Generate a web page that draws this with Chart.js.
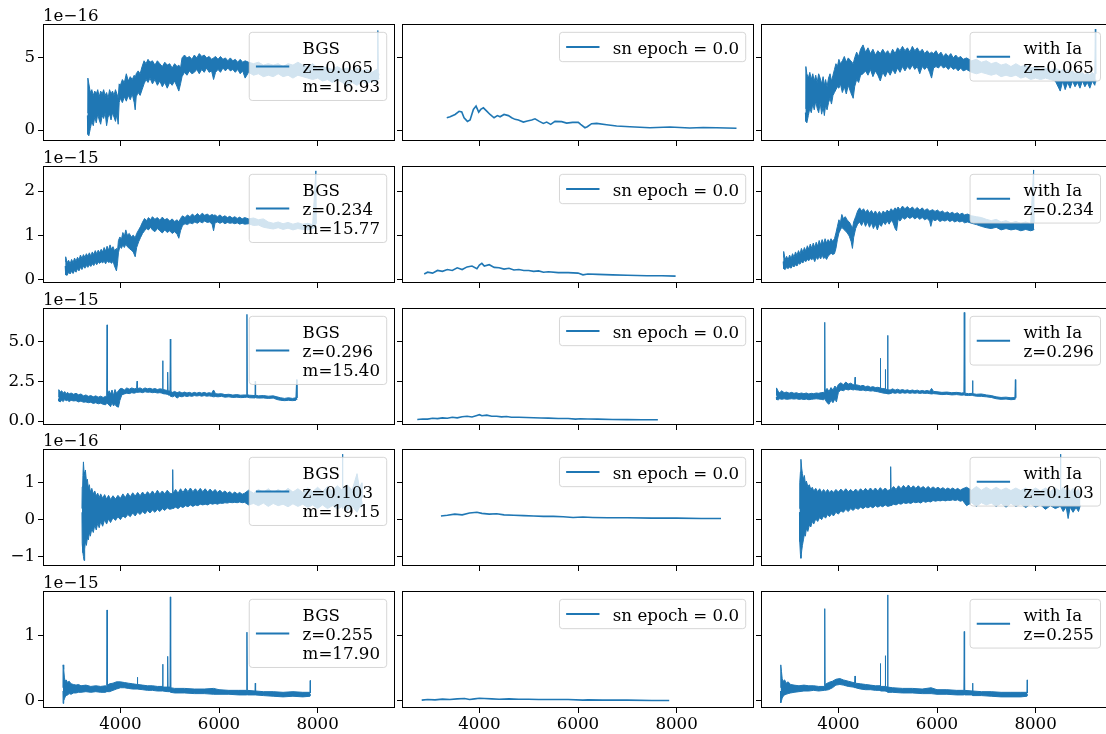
<!DOCTYPE html>
<html>
<head>
<meta charset="utf-8">
<script src="https://cdn.jsdelivr.net/npm/chart.js@4.4.0/dist/chart.umd.min.js"></script>
<style>
  html, body { margin: 0; padding: 0; background: #fff; overflow: hidden; }
  #fig { position: relative; width: 1106px; height: 734px; overflow: hidden; background: #fff; }
  #fig canvas { position: absolute; }
</style>
</head>
<body>
<div id="fig"></div>
<script>
// per-row labels
const rowScale = ['1e\u221216', '1e\u221215', '1e\u221215', '1e\u221216', '1e\u221215'];
const redshifts = ['0.065', '0.234', '0.296', '0.103', '0.255'];
const magnitudes = ['16.93', '15.77', '15.40', '19.15', '17.90'];
const snEpoch = '0.0';

// axis limits / ticks (flux in units of the row multiplier)
const xLimits = [2430, 9570];
const xTicks = [4000, 6000, 8000];
const yLimits = [[-0.76, 7.35], [-0.085, 2.57], [-0.25, 7.1], [-1.26, 1.92], [-0.11, 1.68]];
const yTicks = [[0, 5], [0, 1, 2], [0, 2.5, 5], [-1, 0, 1], [0, 1]];
const yDecimals = [0, 0, 1, 0, 0];

// galaxy spectra: [wavelength, upper edge, lower edge] of the noisy flux band
const bgs1 = [
  [3330,1.2,1.0],[3340,3.6,-0.3],[3360,3.2,-0.4],[3390,2.6,0.1],[3420,2.8,0.6],[3450,2.4,0.3],[3480,2.7,0.9],
  [3510,2.5,0.5],[3540,2.8,1.1],[3570,2.3,0.7],[3600,2.7,0.4],[3630,2.5,1.0],[3660,2.8,0.8],[3690,2.4,1.2],
  [3720,2.6,0.3],[3750,2.2,0.9],[3780,2.8,1.1],[3810,2.5,0.7],[3840,2.7,1.2],[3870,2.4,0.9],[3900,2.8,0.6],
  [3930,2.5,1.1],[3955,2.2,0.4],[3975,3.2,1.9],[4000,3.1,2.2],[4040,3.5,1.9],[4080,3.3,2.3],[4120,3.9,2.0],
  [4160,3.4,2.4],[4200,3.7,2.1],[4240,3.5,2.5],[4280,3.8,1.9],[4300,3.6,1.4],[4320,3.9,2.3],[4360,4.1,2.6],
  [4400,3.9,2.4],[4440,4.4,2.8],[4480,4.8,3.2],[4520,4.6,3.5],[4560,4.9,3.3],[4600,4.7,3.6],[4650,4.8,3.2],
  [4700,4.5,3.5],[4750,4.8,3.1],[4800,4.6,3.4],[4850,4.4,3.0],[4900,4.7,3.3],[4950,4.5,2.9],[5000,4.6,3.3],
  [5050,4.3,3.1],[5100,4.6,3.4],[5150,4.4,3.0],[5185,4.5,2.7],[5220,4.3,3.2],[5250,5.0,3.7],[5300,5.2,4.0],
  [5350,5.0,3.8],[5400,5.1,4.1],[5450,4.9,3.9],[5500,5.2,4.0],[5550,5.0,4.2],[5600,5.3,3.9],[5650,5.1,4.2],
  [5700,5.2,4.0],[5750,5.0,4.3],[5800,5.1,4.0],[5850,4.9,4.1],[5890,5.0,3.5],[5930,5.1,4.0],[5980,4.9,4.2],
  [6030,5.1,4.0],[6080,4.9,4.3],[6130,5.0,4.1],[6180,4.8,4.3],[6230,5.0,4.1],[6280,4.8,4.2],[6330,4.9,4.0],
  [6380,4.7,4.2],[6430,4.9,3.9],[6480,4.7,4.1],[6530,4.8,3.6],[6600,4.7,4.0],[6700,4.6,3.8],[6800,4.7,3.9],
  [6900,4.5,3.7],[7000,4.6,3.8],[7100,4.5,3.7],[7200,4.6,3.9],[7300,4.4,3.7],[7400,4.6,3.8],[7500,4.5,3.6],
  [7600,4.7,3.8],[7700,4.5,3.7],[7800,4.4,3.6],[7900,4.6,3.5],[8000,4.3,3.6],[8100,4.4,3.4],[8200,4.3,3.5],
  [8300,4.2,3.3],[8400,4.4,3.5],[8500,4.2,3.3],[8600,4.3,3.0],[8700,4.1,3.3],[8800,4.3,3.1],[8900,4.1,3.4],
  [9000,4.2,3.2],[9100,4.0,3.4],[9200,4.2,3.3],[9215,4.1,3.5],[9222,6.9,3.6],[9230,4.0,3.5],[9250,3.8,3.6]
];
const bgs2 = [
  [2880,0.40,0.30],[2890,0.51,0.10],[2920,0.38,0.09],[2950,0.43,0.16],[2980,0.35,0.12],[3010,0.45,0.18],
  [3040,0.38,0.13],[3070,0.48,0.20],[3100,0.41,0.16],[3130,0.50,0.24],[3160,0.44,0.19],[3190,0.55,0.27],
  [3220,0.47,0.22],[3250,0.56,0.30],[3280,0.50,0.25],[3310,0.58,0.31],[3340,0.52,0.27],[3370,0.60,0.33],
  [3400,0.53,0.29],[3430,0.62,0.35],[3460,0.56,0.31],[3490,0.65,0.38],[3520,0.58,0.33],[3550,0.66,0.39],
  [3580,0.60,0.36],[3610,0.68,0.40],[3640,0.62,0.37],[3670,0.72,0.41],[3700,0.64,0.35],[3730,0.75,0.42],
  [3760,0.66,0.38],[3790,0.78,0.40],[3820,0.68,0.36],[3850,0.74,0.41],[3880,0.65,0.30],[3920,0.70,0.19],
  [3940,0.62,0.35],[3960,0.88,0.60],[3990,0.96,0.75],[4020,0.90,0.70],[4050,1.06,0.78],[4080,0.98,0.72],
  [4110,1.12,0.80],[4140,1.00,0.74],[4180,1.04,0.70],[4220,0.96,0.66],[4260,1.00,0.62],[4300,0.94,0.51],
  [4330,1.04,0.72],[4370,1.12,0.85],[4410,1.20,0.95],[4450,1.30,1.04],[4490,1.38,1.10],[4530,1.33,1.15],
  [4570,1.40,1.12],[4610,1.35,1.18],[4650,1.42,1.12],[4700,1.36,1.08],[4750,1.40,1.15],[4800,1.34,1.10],
  [4850,1.41,1.05],[4900,1.35,1.12],[4950,1.38,1.06],[5000,1.32,1.10],[5050,1.37,1.04],[5100,1.31,1.08],
  [5150,1.35,1.02],[5185,1.30,0.93],[5220,1.38,1.10],[5260,1.44,1.22],[5310,1.40,1.26],[5360,1.46,1.24],
  [5410,1.42,1.28],[5460,1.48,1.26],[5510,1.43,1.30],[5560,1.49,1.27],[5610,1.44,1.31],[5660,1.50,1.28],
  [5710,1.45,1.32],[5760,1.48,1.29],[5810,1.44,1.30],[5860,1.47,1.25],[5890,1.45,1.10],[5920,1.46,1.28],
  [5970,1.42,1.30],[6020,1.46,1.27],[6070,1.41,1.30],[6120,1.44,1.26],[6170,1.40,1.29],[6220,1.43,1.27],
  [6270,1.39,1.28],[6320,1.42,1.26],[6370,1.38,1.28],[6420,1.41,1.25],[6470,1.37,1.27],[6520,1.40,1.25],
  [6600,1.37,1.26],[6700,1.39,1.22],[6800,1.35,1.23],[6900,1.37,1.18],[7000,1.30,1.16],[7100,1.27,1.14],
  [7200,1.30,1.17],[7300,1.26,1.13],[7400,1.29,1.16],[7500,1.25,1.12],[7600,1.28,1.15],[7700,1.25,1.13],
  [7800,1.27,1.12],[7900,1.24,1.15],[7965,2.46,1.18],[7975,1.26,1.20]
];
const bgs3 = [
  [2745,1.50,1.40],[2750,1.97,1.25],[2780,1.82,1.20],[2810,1.90,1.30],[2840,1.75,1.22],[2870,1.85,1.35],
  [2900,1.72,1.28],[2930,1.80,1.30],[2960,1.70,1.22],[3000,1.76,1.30],[3050,1.68,1.26],[3100,1.74,1.28],
  [3150,1.65,1.20],[3200,1.70,1.25],[3250,1.58,1.18],[3300,1.64,1.20],[3350,1.55,1.15],[3400,1.60,1.18],
  [3450,1.52,1.10],[3500,1.58,1.15],[3550,1.50,1.08],[3600,1.56,1.12],[3650,1.48,1.05],[3700,1.55,1.02],
  [3722,1.52,1.10],[3730,6.04,1.20],[3738,1.60,1.10],[3770,1.90,1.00],[3800,1.70,0.90],[3830,1.95,1.15],
  [3860,1.60,0.95],[3890,1.98,1.05],[3920,1.75,0.92],[3960,1.90,0.87],[3990,2.02,1.30],[4030,2.05,1.65],
  [4080,1.95,1.70],[4130,2.08,1.75],[4180,2.00,1.72],[4230,2.08,1.78],[4280,2.02,1.75],[4330,2.05,1.80],
  [4338,2.50,1.82],[4346,2.04,1.80],[4400,2.08,1.82],[4450,2.00,1.78],[4500,2.08,1.84],[4550,2.02,1.80],
  [4600,2.06,1.82],[4650,2.00,1.78],[4700,2.04,1.80],[4750,1.98,1.76],[4800,2.02,1.78],[4852,2.00,1.75],
  [4858,3.79,1.80],[4864,1.98,1.72],[4910,1.95,1.70],[4952,1.92,1.68],[4959,3.07,1.70],[4966,1.90,1.64],
  [5005,1.88,1.62],[5013,5.15,1.65],[5021,1.85,1.55],[5060,1.80,1.52],[5100,1.86,1.58],[5150,1.78,1.44],
  [5200,1.84,1.55],[5250,1.76,1.52],[5300,1.82,1.58],[5350,1.76,1.54],[5400,1.80,1.58],[5450,1.74,1.55],
  [5500,1.80,1.60],[5550,1.75,1.57],[5600,1.80,1.60],[5650,1.75,1.56],[5700,1.80,1.60],[5750,1.74,1.56],
  [5800,1.78,1.58],[5850,1.74,1.55],[5890,1.95,1.52],[5930,1.72,1.54],[5980,1.70,1.52],[6050,1.72,1.55],
  [6120,1.66,1.50],[6200,1.68,1.52],[6280,1.63,1.48],[6360,1.66,1.50],[6440,1.62,1.47],[6520,1.64,1.48],
  [6560,1.63,1.50],[6567,6.70,1.52],[6574,1.65,1.50],[6620,1.62,1.46],[6730,1.60,1.45],[6736,2.50,1.48],
  [6742,1.62,1.46],[6800,1.58,1.44],[6900,1.60,1.45],[7000,1.56,1.42],[7100,1.58,1.44],[7175,1.52,1.35],
  [7250,1.46,1.30],[7330,1.42,1.28],[7410,1.46,1.30],[7490,1.42,1.28],[7560,1.46,1.30],[7575,2.60,1.35],
  [7582,1.45,1.40]
];
const bgs4 = [
  [3220,0.30,0.20],[3225,0.89,-0.65],[3240,1.20,-0.90],[3250,1.57,-1.00],[3262,1.30,-1.11],[3275,1.20,-0.80],
  [3290,1.35,-0.60],[3310,1.05,-0.70],[3330,1.10,-0.50],[3350,0.85,-0.55],[3370,0.95,-0.35],[3390,0.75,-0.45],
  [3420,0.85,-0.25],[3450,0.70,-0.35],[3480,0.78,-0.15],[3510,0.65,-0.28],[3540,0.72,-0.10],[3570,0.60,-0.22],
  [3600,0.70,-0.05],[3640,0.58,-0.18],[3680,0.68,0.00],[3720,0.56,-0.12],[3760,0.66,0.02],[3800,0.55,-0.08],
  [3850,0.65,0.05],[3900,0.56,-0.02],[3950,0.66,0.08],[4000,0.58,0.00],[4050,0.70,0.10],[4100,0.60,0.05],
  [4150,0.72,0.14],[4200,0.62,0.08],[4250,0.73,0.18],[4300,0.64,0.10],[4350,0.74,0.20],[4400,0.65,0.14],
  [4450,0.75,0.22],[4500,0.66,0.16],[4550,0.76,0.25],[4600,0.68,0.18],[4650,0.78,0.26],[4700,0.68,0.20],
  [4750,0.80,0.28],[4800,0.70,0.22],[4850,0.78,0.30],[4900,0.70,0.25],[4950,0.80,0.32],[5000,0.72,0.28],
  [5055,0.70,0.30],[5061,1.36,0.32],[5067,0.72,0.30],[5120,0.82,0.34],[5170,0.72,0.30],[5220,0.84,0.36],
  [5270,0.74,0.33],[5320,0.85,0.38],[5370,0.76,0.35],[5420,0.86,0.40],[5470,0.76,0.36],[5520,0.84,0.40],
  [5570,0.76,0.38],[5620,0.85,0.42],[5670,0.76,0.40],[5720,0.84,0.42],[5770,0.75,0.40],[5820,0.83,0.44],
  [5870,0.75,0.42],[5920,0.82,0.44],[5970,0.74,0.42],[6020,0.80,0.45],[6070,0.73,0.44],[6120,0.78,0.46],
  [6170,0.72,0.45],[6220,0.76,0.47],[6270,0.70,0.46],[6320,0.75,0.47],[6370,0.70,0.46],[6420,0.74,0.48],
  [6470,0.69,0.46],[6520,0.72,0.47],[6600,0.80,0.40],[6700,0.72,0.44],[6800,0.82,0.38],[6900,0.74,0.45],
  [7000,0.84,0.36],[7100,0.73,0.44],[7200,0.82,0.38],[7300,0.74,0.42],[7400,0.85,0.35],[7500,0.75,0.43],
  [7600,0.84,0.36],[7700,0.74,0.42],[7800,0.86,0.33],[7900,0.76,0.40],[8000,0.88,0.30],[8100,0.76,0.40],
  [8200,0.90,0.30],[8300,0.78,0.38],[8400,0.92,0.28],[8498,0.80,0.36],[8505,1.78,0.30],[8512,0.82,0.36],
  [8600,0.95,0.25],[8700,0.80,0.36],[8800,1.25,0.20],[8850,0.85,0.34],[8895,1.00,0.40],[8900,0.60,0.50]
];
const bgs5 = [
  [2835,0.20,0.15],[2838,0.55,-0.04],[2850,0.48,0.00],[2865,0.35,0.03],[2880,0.30,0.06],[2900,0.32,0.08],
  [2930,0.28,0.09],[2960,0.30,0.11],[3000,0.26,0.10],[3050,0.25,0.12],[3100,0.24,0.12],[3150,0.25,0.13],
  [3200,0.23,0.13],[3300,0.24,0.14],[3400,0.22,0.13],[3500,0.23,0.14],[3600,0.22,0.13],[3700,0.23,0.13],
  [3724,0.22,0.14],[3730,1.39,0.15],[3736,0.24,0.14],[3780,0.26,0.14],[3850,0.27,0.16],[3920,0.29,0.18],
  [4000,0.29,0.20],[4080,0.28,0.20],[4160,0.27,0.19],[4250,0.26,0.18],[4340,0.25,0.18],[4345,0.36,0.18],
  [4350,0.25,0.18],[4450,0.24,0.17],[4550,0.23,0.16],[4650,0.23,0.16],[4750,0.22,0.15],[4852,0.22,0.15],
  [4858,0.56,0.16],[4864,0.21,0.15],[4952,0.21,0.14],[4959,0.68,0.15],[4966,0.21,0.14],[5006,0.21,0.14],
  [5013,1.59,0.15],[5020,0.20,0.13],[5100,0.19,0.12],[5300,0.19,0.12],[5500,0.18,0.11],[5700,0.18,0.11],
  [5890,0.19,0.10],[6000,0.17,0.10],[6200,0.16,0.10],[6400,0.16,0.09],[6560,0.16,0.09],[6567,1.05,0.10],
  [6574,0.16,0.09],[6730,0.15,0.09],[6736,0.27,0.09],[6742,0.15,0.09],[6900,0.14,0.08],[7100,0.14,0.07],
  [7300,0.13,0.06],[7500,0.14,0.07],[7700,0.13,0.06],[7845,0.13,0.07],[7850,0.31,0.08],[7856,0.12,0.10]
];

// galaxy + SN Ia spectra, same layout
const ia1 = [
  [3330,1.5,1.2],[3340,4.4,0.6],[3360,3.9,0.5],[3390,3.6,1.0],[3420,4.0,1.5],[3450,3.5,1.2],[3480,3.9,1.8],
  [3510,3.4,1.4],[3540,3.8,2.0],[3570,3.3,1.5],[3600,3.9,1.2],[3630,3.6,1.9],[3660,3.2,1.1],[3690,3.7,1.6],
  [3715,3.1,1.0],[3740,3.5,1.7],[3770,3.0,1.4],[3800,3.6,1.9],[3830,3.9,2.2],[3860,3.4,1.8],[3890,3.8,2.4],
  [3920,4.2,2.6],[3950,4.6,2.8],[3980,4.4,3.0],[4010,4.9,2.9],[4040,4.6,3.2],[4080,4.8,2.6],[4120,5.1,3.0],
  [4160,4.7,2.5],[4200,5.0,3.1],[4250,4.8,2.6],[4300,4.6,2.2],[4330,5.0,3.0],[4370,5.4,3.5],[4410,5.1,3.3],
  [4450,5.6,3.8],[4500,5.9,3.9],[4550,5.4,4.1],[4600,5.7,3.8],[4650,5.3,4.2],[4700,5.6,3.7],[4750,5.2,4.1],
  [4800,5.5,3.8],[4850,5.3,3.4],[4900,5.6,4.0],[4950,5.3,3.7],[5000,5.5,4.1],[5050,5.2,3.8],[5100,5.6,4.2],
  [5150,5.3,3.9],[5200,5.7,4.3],[5250,5.5,4.0],[5300,5.8,4.4],[5350,5.5,4.1],[5400,5.7,4.4],[5450,5.4,4.2],
  [5500,5.8,4.5],[5550,5.5,4.2],[5600,5.7,4.4],[5650,5.4,3.9],[5700,5.6,4.4],[5750,5.3,4.2],[5800,5.5,4.4],
  [5850,5.3,4.0],[5890,5.4,3.6],[5930,5.3,4.3],[5980,5.5,4.4],[6030,5.2,4.3],[6080,5.4,4.5],[6130,5.1,4.3],
  [6180,5.3,4.4],[6230,5.1,4.2],[6280,5.3,4.4],[6330,5.0,4.2],[6380,5.2,4.3],[6430,5.0,4.1],[6480,5.1,4.3],
  [6530,4.9,4.1],[6600,5.0,4.2],[6700,4.8,4.0],[6800,4.9,3.9],[6900,4.7,4.0],[7000,4.8,3.9],[7100,4.6,3.8],
  [7200,4.7,3.9],[7300,4.5,3.7],[7400,4.6,3.8],[7500,4.4,3.7],[7600,4.6,3.8],[7700,4.4,3.6],[7800,4.5,3.7],
  [7900,4.3,3.5],[8000,4.4,3.6],[8100,4.2,3.5],[8200,4.3,3.6],[8300,4.1,3.5],[8400,4.3,3.4],[8500,4.1,2.7],
  [8550,4.2,3.4],[8600,4.0,2.8],[8650,4.2,3.3],[8700,4.0,2.9],[8750,4.1,3.4],[8800,3.9,3.0],[8850,4.1,3.3],
  [8900,3.9,2.9],[8950,4.0,3.4],[9000,3.8,3.0],[9050,4.0,3.3],[9100,3.8,2.9],[9150,4.0,3.4],[9200,3.8,3.1],
  [9212,7.0,3.3],[9220,3.9,3.5]
];
const ia2 = [
  [2880,0.50,0.40],[2890,0.63,0.24],[2920,0.45,0.22],[2950,0.52,0.27],[2980,0.44,0.24],[3010,0.55,0.28],
  [3040,0.47,0.25],[3070,0.58,0.31],[3100,0.50,0.28],[3130,0.62,0.33],[3160,0.54,0.30],[3190,0.65,0.37],
  [3220,0.57,0.34],[3250,0.70,0.40],[3280,0.61,0.37],[3310,0.72,0.43],[3340,0.64,0.40],[3370,0.76,0.45],
  [3400,0.68,0.42],[3430,0.80,0.47],[3460,0.70,0.44],[3490,0.82,0.48],[3520,0.72,0.40],[3550,0.84,0.50],
  [3580,0.75,0.45],[3610,0.88,0.52],[3640,0.78,0.46],[3670,0.90,0.55],[3700,0.80,0.47],[3730,0.92,0.50],
  [3760,0.82,0.45],[3790,0.90,0.52],[3820,0.84,0.55],[3850,0.92,0.60],[3880,0.86,0.56],[3920,0.92,0.58],
  [3950,1.05,0.70],[3980,1.20,0.90],[4010,1.35,1.05],[4040,1.28,1.12],[4070,1.47,1.18],[4100,1.38,1.14],
  [4140,1.42,1.10],[4180,1.34,1.05],[4220,1.30,0.98],[4260,1.22,0.85],[4285,1.15,0.70],[4310,1.30,0.95],
  [4350,1.42,1.15],[4390,1.55,1.25],[4430,1.62,1.30],[4470,1.55,1.22],[4510,1.60,1.32],[4550,1.52,1.20],
  [4590,1.58,1.30],[4630,1.50,1.18],[4670,1.56,1.28],[4710,1.48,1.15],[4750,1.55,1.25],[4790,1.47,1.12],
  [4830,1.54,1.26],[4870,1.47,1.20],[4910,1.55,1.30],[4950,1.50,1.24],[4990,1.57,1.32],[5030,1.52,1.25],
  [5070,1.60,1.34],[5110,1.55,1.28],[5150,1.62,1.15],[5180,1.58,1.10],[5210,1.64,1.36],[5250,1.58,1.32],
  [5300,1.66,1.40],[5350,1.60,1.36],[5400,1.65,1.42],[5450,1.59,1.38],[5500,1.64,1.42],[5550,1.58,1.37],
  [5600,1.63,1.41],[5650,1.57,1.36],[5700,1.62,1.40],[5750,1.56,1.35],[5800,1.60,1.38],[5850,1.55,1.32],
  [5875,1.56,1.20],[5910,1.58,1.36],[5960,1.54,1.33],[6010,1.57,1.36],[6060,1.52,1.31],[6110,1.55,1.34],
  [6160,1.50,1.32],[6210,1.53,1.35],[6260,1.49,1.31],[6310,1.52,1.34],[6360,1.48,1.30],[6410,1.51,1.33],
  [6460,1.47,1.30],[6510,1.50,1.32],[6560,1.46,1.28],[6620,1.48,1.30],[6700,1.44,1.27],[6800,1.42,1.24],
  [6900,1.40,1.20],[7000,1.36,1.17],[7100,1.33,1.15],[7200,1.36,1.18],[7300,1.30,1.12],[7400,1.33,1.15],
  [7500,1.28,1.12],[7600,1.31,1.14],[7700,1.27,1.10],[7800,1.30,1.13],[7900,1.26,1.10],[7960,2.48,1.12],
  [7970,1.28,1.14]
];
const ia3 = [
  [2740,1.60,1.50],[2745,2.08,1.35],[2780,1.86,1.33],[2810,1.78,1.40],[2850,1.90,1.36],[2900,1.78,1.40],
  [2950,1.82,1.36],[3000,1.75,1.38],[3050,1.80,1.40],[3100,1.74,1.38],[3150,1.78,1.40],[3200,1.72,1.36],
  [3250,1.76,1.38],[3300,1.72,1.35],[3350,1.76,1.38],[3400,1.70,1.34],[3450,1.74,1.36],[3500,1.72,1.38],
  [3550,1.76,1.40],[3600,1.74,1.38],[3650,1.78,1.36],[3700,1.80,1.33],[3716,1.78,1.40],[3723,6.20,1.40],
  [3730,1.90,1.35],[3770,2.05,1.15],[3810,1.85,1.05],[3850,2.10,1.30],[3890,1.95,1.15],[3930,2.20,1.40],
  [3960,2.05,1.20],[4000,2.30,1.80],[4050,2.40,1.95],[4100,2.28,1.90],[4150,2.45,2.00],[4200,2.32,1.95],
  [4250,2.38,2.00],[4300,2.28,1.95],[4330,2.30,1.98],[4338,2.75,2.00],[4346,2.28,1.96],[4400,2.25,1.95],
  [4450,2.20,1.92],[4500,2.24,1.95],[4550,2.16,1.90],[4600,2.20,1.92],[4650,2.12,1.88],[4700,2.16,1.90],
  [4750,2.10,1.86],[4800,2.12,1.84],[4845,2.08,1.80],[4851,3.94,1.84],[4857,2.06,1.80],[4900,2.04,1.76],
  [4946,2.02,1.74],[4952,3.24,1.76],[4958,2.00,1.74],[4993,1.98,1.72],[4999,5.38,1.74],[5005,1.96,1.70],
  [5050,1.95,1.72],[5100,2.02,1.78],[5150,1.94,1.74],[5200,2.00,1.78],[5250,1.93,1.74],[5300,1.98,1.78],
  [5350,1.92,1.75],[5400,1.96,1.78],[5450,1.90,1.74],[5500,1.95,1.77],[5550,1.90,1.74],[5600,1.94,1.77],
  [5650,1.88,1.73],[5700,1.92,1.76],[5750,1.88,1.73],[5800,1.92,1.75],[5850,1.87,1.72],[5890,2.05,1.70],
  [5930,1.86,1.72],[6000,1.84,1.70],[6100,1.80,1.66],[6200,1.82,1.68],[6300,1.78,1.64],[6400,1.80,1.66],
  [6500,1.76,1.62],[6546,1.78,1.64],[6553,6.82,1.66],[6560,2.67,1.64],[6566,1.75,1.62],[6640,1.72,1.60],
  [6716,1.74,1.62],[6722,2.54,1.62],[6728,1.72,1.60],[6800,1.68,1.56],[6900,1.70,1.55],[7000,1.64,1.52],
  [7100,1.60,1.48],[7200,1.52,1.40],[7300,1.48,1.36],[7400,1.50,1.38],[7500,1.46,1.34],[7580,1.48,1.36],
  [7590,2.60,1.38],[7597,1.46,1.40]
];
const ia4 = [
  [3210,0.30,0.20],[3216,1.00,-0.60],[3230,1.30,-0.95],[3240,1.64,-1.05],[3255,1.40,-0.85],[3270,1.25,-0.70],
  [3290,1.10,-0.55],[3310,1.20,-0.40],[3330,0.98,-0.45],[3350,1.05,-0.25],[3380,0.90,-0.32],[3410,0.95,-0.15],
  [3440,0.82,-0.20],[3470,0.88,-0.05],[3500,0.78,-0.12],[3540,0.85,0.02],[3580,0.76,-0.05],[3620,0.84,0.06],
  [3660,0.74,0.00],[3700,0.82,0.10],[3740,0.74,0.04],[3780,0.82,0.14],[3820,0.74,0.08],[3860,0.80,0.16],
  [3900,0.74,0.10],[3950,0.82,0.20],[4000,0.75,0.15],[4050,0.83,0.24],[4100,0.76,0.20],[4150,0.84,0.28],
  [4200,0.76,0.22],[4250,0.82,0.30],[4300,0.75,0.25],[4350,0.83,0.32],[4400,0.76,0.28],[4450,0.84,0.34],
  [4500,0.77,0.30],[4550,0.85,0.35],[4600,0.78,0.32],[4650,0.86,0.36],[4700,0.78,0.32],[4750,0.86,0.38],
  [4800,0.78,0.34],[4850,0.87,0.38],[4900,0.79,0.35],[4950,0.86,0.40],[5000,0.79,0.36],[5053,0.82,0.38],
  [5060,1.44,0.40],[5067,0.82,0.38],[5120,0.90,0.42],[5170,0.82,0.40],[5220,0.92,0.44],[5270,0.84,0.42],
  [5320,0.93,0.46],[5370,0.85,0.44],[5420,0.94,0.46],[5470,0.85,0.44],[5520,0.92,0.48],[5570,0.85,0.46],
  [5620,0.92,0.48],[5670,0.85,0.45],[5720,0.90,0.50],[5770,0.84,0.47],[5820,0.90,0.50],[5870,0.84,0.48],
  [5920,0.89,0.52],[5970,0.84,0.50],[6020,0.88,0.52],[6070,0.83,0.51],[6120,0.87,0.53],[6170,0.82,0.51],
  [6220,0.86,0.53],[6270,0.82,0.52],[6320,0.86,0.54],[6370,0.81,0.52],[6420,0.85,0.54],[6470,0.80,0.50],
  [6520,0.84,0.52],[6600,0.88,0.38],[6700,0.80,0.46],[6800,0.90,0.36],[6900,0.80,0.46],[7000,0.88,0.40],
  [7100,0.80,0.45],[7200,0.88,0.36],[7300,0.80,0.44],[7400,0.86,0.34],[7500,0.79,0.44],[7600,0.86,0.36],
  [7700,0.79,0.42],[7800,0.86,0.33],[7900,0.78,0.42],[8000,0.86,0.34],[8100,0.78,0.40],[8200,0.86,0.28],
  [8300,0.77,0.38],[8400,0.86,0.30],[8498,0.78,0.36],[8505,1.78,0.34],[8512,0.80,0.36],[8560,0.88,0.22],
  [8620,0.78,0.35],[8660,0.86,0.03],[8700,0.76,0.34],[8760,0.85,0.20],[8820,0.76,0.33],[8870,0.84,0.22],
  [8910,0.60,0.40]
];
const ia5 = [
  [2828,0.20,0.15],[2831,0.55,-0.03],[2845,0.45,0.00],[2860,0.34,0.04],[2880,0.30,0.07],[2910,0.32,0.09],
  [2940,0.27,0.10],[2980,0.29,0.11],[3030,0.25,0.12],[3100,0.24,0.13],[3200,0.23,0.14],[3300,0.24,0.15],
  [3400,0.23,0.15],[3500,0.23,0.16],[3600,0.22,0.15],[3716,0.22,0.16],[3723,1.41,0.16],[3730,0.25,0.16],
  [3800,0.28,0.17],[3880,0.30,0.20],[3950,0.33,0.24],[4030,0.34,0.25],[4100,0.32,0.24],[4200,0.30,0.22],
  [4300,0.28,0.21],[4332,0.28,0.20],[4338,0.38,0.21],[4344,0.27,0.20],[4450,0.26,0.18],[4550,0.25,0.17],
  [4650,0.24,0.17],[4750,0.23,0.16],[4845,0.23,0.16],[4851,0.57,0.16],[4857,0.22,0.15],[4946,0.22,0.15],
  [4952,0.69,0.15],[4958,0.22,0.15],[4993,0.21,0.14],[4999,1.62,0.15],[5005,0.21,0.13],[5100,0.20,0.13],
  [5300,0.19,0.12],[5500,0.19,0.12],[5700,0.18,0.11],[5880,0.20,0.11],[6000,0.17,0.10],[6200,0.17,0.10],
  [6400,0.16,0.09],[6546,0.16,0.09],[6553,1.06,0.10],[6560,0.16,0.09],[6716,0.15,0.09],[6722,0.27,0.09],
  [6728,0.15,0.08],[6900,0.14,0.08],[7100,0.14,0.07],[7300,0.13,0.06],[7500,0.13,0.06],[7700,0.13,0.06],
  [7824,0.13,0.07],[7830,0.32,0.08],[7836,0.12,0.10]
];

// supernova template at epoch 0: [wavelength, flux]
const sn1 = [
  [3338,0.85],[3406,0.92],[3507,1.08],[3588,1.30],[3642,1.25],[3689,0.85],[3757,0.60],[3811,0.70],[3878,1.43],
  [3932,1.66],[3986,1.24],[4027,1.43],[4081,1.54],[4149,1.31],[4216,1.08],[4297,0.85],[4365,1.00],[4419,0.92],
  [4500,1.08],[4588,1.00],[4655,0.85],[4723,0.74],[4790,0.69],[4892,0.55],[4973,0.62],[5061,0.69],[5128,0.78],
  [5216,0.60],[5297,0.46],[5365,0.55],[5446,0.39],[5533,0.60],[5668,0.58],[5770,0.48],[5891,0.53],[6006,0.53],
  [6054,0.39],[6141,0.16],[6189,0.23],[6276,0.44],[6378,0.46],[6580,0.37],[6783,0.28],[7053,0.23],[7459,0.16],
  [7864,0.21],[8269,0.14],[8539,0.18],[8809,0.16],[9215,0.12]
];
const sn2 = [
  [2880,0.12],[2950,0.16],[3050,0.14],[3150,0.20],[3250,0.18],[3350,0.22],[3450,0.20],[3550,0.26],[3650,0.22],
  [3750,0.28],[3850,0.30],[3950,0.24],[4000,0.32],[4050,0.36],[4100,0.30],[4200,0.33],[4300,0.27],[4400,0.26],
  [4500,0.23],[4600,0.25],[4700,0.21],[4800,0.22],[4900,0.20],[5000,0.20],[5100,0.18],[5200,0.19],[5300,0.16],
  [5400,0.17],[5600,0.15],[5800,0.15],[6000,0.14],[6100,0.10],[6200,0.12],[6400,0.11],[6700,0.10],[7000,0.09],
  [7400,0.08],[7700,0.08],[7980,0.07]
];
const sn3 = [
  [2740,0.10],[2850,0.13],[2950,0.12],[3050,0.17],[3150,0.15],[3250,0.20],[3350,0.17],[3450,0.24],[3550,0.20],
  [3650,0.27],[3750,0.30],[3850,0.25],[3950,0.35],[4000,0.40],[4050,0.33],[4150,0.37],[4250,0.30],[4350,0.30],
  [4450,0.26],[4550,0.28],[4650,0.24],[4800,0.24],[4950,0.22],[5100,0.21],[5250,0.19],[5400,0.18],[5600,0.16],
  [5800,0.16],[5950,0.12],[6050,0.14],[6200,0.13],[6400,0.12],[6700,0.10],[7000,0.09],[7300,0.08],[7620,0.08]
];
const sn4 = [
  [3220,0.10],[3350,0.12],[3500,0.15],[3650,0.13],[3800,0.18],[3950,0.20],[4050,0.17],[4200,0.15],[4350,0.16],
  [4500,0.13],[4700,0.12],[4900,0.11],[5100,0.10],[5300,0.09],[5500,0.09],[5700,0.08],[5900,0.06],[6100,0.07],
  [6300,0.06],[6600,0.05],[7000,0.05],[7500,0.04],[8000,0.04],[8500,0.03],[8900,0.03]
];
const sn5 = [
  [2830,0.010],[2950,0.020],[3100,0.015],[3250,0.025],[3400,0.020],[3550,0.030],[3700,0.035],[3800,0.020],
  [3900,0.030],[4000,0.040],[4100,0.035],[4250,0.030],[4400,0.025],[4600,0.030],[4800,0.025],[5000,0.025],
  [5200,0.020],[5500,0.020],[5800,0.020],[6100,0.010],[6200,0.015],[6500,0.010],[7000,0.010],[7500,0.005],
  [7850,0.005]
];

const bgsSpectra = [bgs1, bgs2, bgs3, bgs4, bgs5];
const iaSpectra = [ia1, ia2, ia3, ia4, ia5];
const snSpectra = [sn1, sn2, sn3, sn4, sn5];

// ---- figure layout ----
const BLUE = '#1f77b4';
const FS = 16.67;
const FONT = "'DejaVu Serif', serif";
const colLeft = [43, 402, 761];
const rowTop = [24, 166, 308, 449, 591];
const AX_W = 352, AX_H = 117;
const PAD = { l: 43, t: 24, r: 6, b: 27 };
const legendInset = [8.3, 8.3, 12.5];

// frame, offset text and a matplotlib-style legend
const panelDecor = {
  id: 'panelDecor',
  afterDraw(chart, args, o) {
    const { ctx, chartArea: a } = chart;
    ctx.save();
    ctx.strokeStyle = '#000';
    ctx.lineWidth = 1;
    ctx.strokeRect(a.left + 0.5, a.top + 0.5, a.right - a.left - 1, a.bottom - a.top - 1);

    ctx.font = `${FS}px ${FONT}`;
    ctx.fillStyle = '#000';
    if (o.col === 0) {
      ctx.textAlign = 'left';
      ctx.textBaseline = 'alphabetic';
      ctx.fillText(rowScale[o.row], a.left, a.top - 3);
    }

    const lines = o.lines;
    const pad = 0.4 * FS, handleLen = 2 * FS, gap = 0.8 * FS, lineH = 19.4;
    const textW = Math.max(...lines.map(t => ctx.measureText(t).width));
    const boxW = pad * 2 + handleLen + gap + textW;
    const boxH = pad * 2 + 16 + (lines.length - 1) * lineH;
    const bx = a.right - legendInset[o.col] - boxW;
    const by = a.top + 0.5 * FS;
    ctx.beginPath();
    if (ctx.roundRect) ctx.roundRect(bx, by, boxW, boxH, 3); else ctx.rect(bx, by, boxW, boxH);
    ctx.fillStyle = 'rgba(255,255,255,0.8)';
    ctx.fill();
    ctx.strokeStyle = 'rgba(204,204,204,0.8)';
    ctx.stroke();

    const hy = by + boxH / 2;
    ctx.beginPath();
    ctx.moveTo(bx + pad, hy);
    ctx.lineTo(bx + pad + handleLen, hy);
    ctx.strokeStyle = BLUE;
    ctx.lineWidth = 2;
    ctx.stroke();

    ctx.fillStyle = '#000';
    ctx.textAlign = 'left';
    ctx.textBaseline = 'middle';
    lines.forEach((t, i) => {
      ctx.fillText(t, bx + pad + handleLen + gap, by + pad + 10.3 + i * lineH);
    });
    ctx.restore();
  }
};

const fig = document.getElementById('fig');

function toPoints(rows, k) {
  return rows.map(p => ({ x: p[0], y: p[k] }));
}

function makePanel(r, c) {
  const cv = document.createElement('canvas');
  const w = AX_W + PAD.l + PAD.r, h = AX_H + PAD.t + PAD.b;
  cv.width = w;
  cv.height = h;
  cv.style.left = (colLeft[c] - PAD.l) + 'px';
  cv.style.top = (rowTop[r] - PAD.t) + 'px';
  cv.style.width = w + 'px';
  cv.style.height = h + 'px';
  fig.appendChild(cv);

  let datasets, lines;
  if (c === 1) {
    datasets = [{
      data: toPoints(snSpectra[r], 1), borderColor: BLUE, borderWidth: 1.6,
      pointRadius: 0, fill: false, tension: 0
    }];
    lines = ['sn epoch = ' + snEpoch];
  } else {
    const src = c === 0 ? bgsSpectra[r] : iaSpectra[r];
    datasets = [
      { data: toPoints(src, 1), borderColor: BLUE, borderWidth: 1, pointRadius: 0, fill: false },
      { data: toPoints(src, 2), borderColor: BLUE, borderWidth: 1, pointRadius: 0, fill: '-1', backgroundColor: BLUE }
    ];
    lines = c === 0
      ? ['BGS', 'z=' + redshifts[r], 'm=' + magnitudes[r]]
      : ['with Ia', 'z=' + redshifts[r]];
  }

  const dec = yDecimals[r];
  new Chart(cv, {
    type: 'line',
    data: { datasets },
    options: {
      responsive: false,
      animation: false,
      devicePixelRatio: 1,
      layout: { padding: { top: PAD.t, right: PAD.r, left: 0, bottom: 0 } },
      plugins: {
        legend: { display: false },
        tooltip: { enabled: false },
        panelDecor: { row: r, col: c, lines }
      },
      scales: {
        x: {
          type: 'linear', min: xLimits[0], max: xLimits[1],
          afterBuildTicks: s => { s.ticks = xTicks.map(v => ({ value: v })); },
          afterFit: s => { s.height = PAD.b; },
          ticks: {
            display: r === 4, color: '#000', font: { family: FONT, size: FS },
            padding: 2, maxRotation: 0, autoSkip: false, callback: v => String(v)
          },
          grid: { drawOnChartArea: false, drawTicks: true, tickLength: 5, color: '#000', lineWidth: 1 },
          border: { display: false }
        },
        y: {
          type: 'linear', min: yLimits[r][0], max: yLimits[r][1],
          afterBuildTicks: s => { s.ticks = yTicks[r].map(v => ({ value: v })); },
          afterFit: s => { s.width = PAD.l; },
          ticks: {
            display: c === 0, color: '#000', font: { family: FONT, size: FS },
            padding: 3, autoSkip: false,
            callback: v => (v < 0 ? '\u2212' : '') + Math.abs(v).toFixed(dec)
          },
          grid: { drawOnChartArea: false, drawTicks: true, tickLength: 5, color: '#000', lineWidth: 1 },
          border: { display: false }
        }
      }
    },
    plugins: [panelDecor]
  });
}

for (let r = 0; r < 5; r++) {
  for (let c = 0; c < 3; c++) makePanel(r, c);
}
</script>
</body>
</html>
